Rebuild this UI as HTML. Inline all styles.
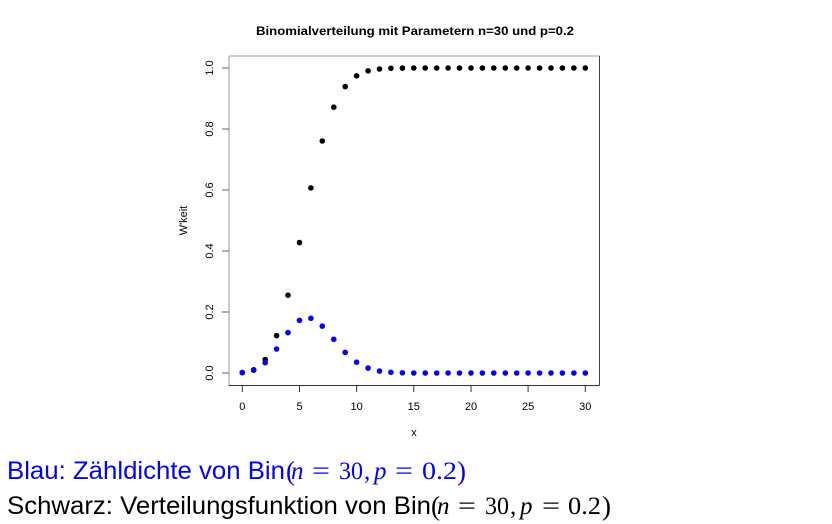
<!DOCTYPE html>
<html>
<head>
<meta charset="utf-8">
<style>
html,body{margin:0;padding:0;background:#fff;}
svg{display:block;}
</style>
</head>
<body>
<svg width="832" height="524" viewBox="0 0 832 524" xmlns="http://www.w3.org/2000/svg">
<rect x="0" y="0" width="832" height="524" fill="#fff"/>
<!-- title -->
<text x="256" y="35" font-family="Liberation Sans, Arial, sans-serif" font-weight="bold" font-size="11.5" textLength="318" lengthAdjust="spacingAndGlyphs" fill="#000">Binomialverteilung mit Parametern n=30 und p=0.2</text>

<!-- box -->
<line x1="229" y1="56" x2="229" y2="385.5" stroke="#bdbdbd" stroke-width="1.5"/>
<line x1="229" y1="56" x2="599.5" y2="56" stroke="#bdbdbd" stroke-width="1.5"/>
<line x1="599.5" y1="56" x2="599.5" y2="385.5" stroke="#444" stroke-width="1"/>
<line x1="228.5" y1="385.5" x2="599.5" y2="385.5" stroke="#333" stroke-width="1"/>

<!-- y ticks -->
<g stroke="#666" stroke-width="1">
<line x1="222" y1="373" x2="229" y2="373"/>
<line x1="222" y1="312" x2="229" y2="312"/>
<line x1="222" y1="251" x2="229" y2="251"/>
<line x1="222" y1="190" x2="229" y2="190"/>
<line x1="222" y1="129" x2="229" y2="129"/>
<line x1="222" y1="68" x2="229" y2="68"/>
</g>
<g font-family="Liberation Sans, Arial, sans-serif" font-size="11" fill="#000" text-anchor="middle">
<text transform="translate(213,373) rotate(-90)">0.0</text>
<text transform="translate(213,312) rotate(-90)">0.2</text>
<text transform="translate(213,251) rotate(-90)">0.4</text>
<text transform="translate(213,190) rotate(-90)">0.6</text>
<text transform="translate(213,129) rotate(-90)">0.8</text>
<text transform="translate(213,68) rotate(-90)">1.0</text>
<text transform="translate(187,220.5) rotate(-90)">W'keit</text>
</g>

<!-- x ticks -->
<g stroke="#333" stroke-width="1">
<line x1="242.3" y1="385" x2="242.3" y2="392"/>
<line x1="299.5" y1="385" x2="299.5" y2="392"/>
<line x1="356.6" y1="385" x2="356.6" y2="392"/>
<line x1="413.8" y1="385" x2="413.8" y2="392"/>
<line x1="471.0" y1="385" x2="471.0" y2="392"/>
<line x1="528.1" y1="385" x2="528.1" y2="392"/>
<line x1="585.3" y1="385" x2="585.3" y2="392"/>
</g>
<g font-family="Liberation Sans, Arial, sans-serif" font-size="11" fill="#000" text-anchor="middle">
<text x="242.3" y="410">0</text>
<text x="299.5" y="410">5</text>
<text x="356.6" y="410">10</text>
<text x="413.8" y="410">15</text>
<text x="471.0" y="410">20</text>
<text x="528.1" y="410">25</text>
<text x="585.3" y="410">30</text>
<text x="414" y="436">x</text>
</g>

<!-- CDF (black) -->
<g fill="#000">
<circle cx="242.3" cy="372.6" r="2.8"/>
<circle cx="253.7" cy="369.8" r="2.8"/>
<circle cx="265.2" cy="359.5" r="2.8"/>
<circle cx="276.6" cy="335.6" r="2.8"/>
<circle cx="288.0" cy="295.2" r="2.8"/>
<circle cx="299.5" cy="242.6" r="2.8"/>
<circle cx="310.9" cy="187.9" r="2.8"/>
<circle cx="322.3" cy="141.0" r="2.8"/>
<circle cx="333.8" cy="107.2" r="2.8"/>
<circle cx="345.2" cy="86.6" r="2.8"/>
<circle cx="356.6" cy="75.8" r="2.8"/>
<circle cx="368.1" cy="70.9" r="2.8"/>
<circle cx="379.5" cy="69.0" r="2.8"/>
<circle cx="390.9" cy="68.3" r="2.8"/>
<circle cx="402.4" cy="68.1" r="2.8"/>
<circle cx="413.8" cy="68" r="2.8"/>
<circle cx="425.2" cy="68" r="2.8"/>
<circle cx="436.7" cy="68" r="2.8"/>
<circle cx="448.1" cy="68" r="2.8"/>
<circle cx="459.5" cy="68" r="2.8"/>
<circle cx="471.0" cy="68" r="2.8"/>
<circle cx="482.4" cy="68" r="2.8"/>
<circle cx="493.8" cy="68" r="2.8"/>
<circle cx="505.3" cy="68" r="2.8"/>
<circle cx="516.7" cy="68" r="2.8"/>
<circle cx="528.1" cy="68" r="2.8"/>
<circle cx="539.6" cy="68" r="2.8"/>
<circle cx="551.0" cy="68" r="2.8"/>
<circle cx="562.4" cy="68" r="2.8"/>
<circle cx="573.9" cy="68" r="2.8"/>
<circle cx="585.3" cy="68" r="2.8"/>
</g>

<!-- PMF (blue) -->
<g fill="#0000ff">
<circle cx="242.3" cy="372.6" r="2.8"/>
<circle cx="253.7" cy="370.2" r="2.8"/>
<circle cx="265.2" cy="362.7" r="2.8"/>
<circle cx="276.6" cy="349.0" r="2.8"/>
<circle cx="288.0" cy="332.6" r="2.8"/>
<circle cx="299.5" cy="320.4" r="2.8"/>
<circle cx="310.9" cy="318.3" r="2.8"/>
<circle cx="322.3" cy="326.1" r="2.8"/>
<circle cx="333.8" cy="339.3" r="2.8"/>
<circle cx="345.2" cy="352.4" r="2.8"/>
<circle cx="356.6" cy="362.2" r="2.8"/>
<circle cx="368.1" cy="368.1" r="2.8"/>
<circle cx="379.5" cy="371.1" r="2.8"/>
<circle cx="390.9" cy="372.3" r="2.8"/>
<circle cx="402.4" cy="372.8" r="2.8"/>
<circle cx="413.8" cy="373" r="2.8"/>
<circle cx="425.2" cy="373" r="2.8"/>
<circle cx="436.7" cy="373" r="2.8"/>
<circle cx="448.1" cy="373" r="2.8"/>
<circle cx="459.5" cy="373" r="2.8"/>
<circle cx="471.0" cy="373" r="2.8"/>
<circle cx="482.4" cy="373" r="2.8"/>
<circle cx="493.8" cy="373" r="2.8"/>
<circle cx="505.3" cy="373" r="2.8"/>
<circle cx="516.7" cy="373" r="2.8"/>
<circle cx="528.1" cy="373" r="2.8"/>
<circle cx="539.6" cy="373" r="2.8"/>
<circle cx="551.0" cy="373" r="2.8"/>
<circle cx="562.4" cy="373" r="2.8"/>
<circle cx="573.9" cy="373" r="2.8"/>
<circle cx="585.3" cy="373" r="2.8"/>
</g>

<!-- bottom text line 1 -->
<g fill="#0000ff" font-size="25">
<text x="7" y="479" font-family="Liberation Sans, Arial, sans-serif" textLength="278" lengthAdjust="spacingAndGlyphs">Blau: Zähldichte von Bin</text>
<g font-family="Liberation Serif, Times New Roman, serif">
<text x="286" y="480" font-size="27">(</text>
<text x="291" y="479" font-style="italic">n</text>
<text x="312" y="479" textLength="18" lengthAdjust="spacingAndGlyphs">=</text>
<text x="339" y="479" textLength="24" lengthAdjust="spacingAndGlyphs">30</text>
<text x="364" y="479">,</text>
<text x="374" y="479" font-style="italic">p</text>
<text x="395" y="479" textLength="18" lengthAdjust="spacingAndGlyphs">=</text>
<text x="422" y="479" textLength="35" lengthAdjust="spacingAndGlyphs">0.2</text>
<text x="457" y="480" font-size="27">)</text>
</g>
</g>

<!-- bottom text line 2 -->
<g fill="#000" font-size="25">
<text x="7" y="514" font-family="Liberation Sans, Arial, sans-serif" textLength="424" lengthAdjust="spacingAndGlyphs">Schwarz: Verteilungsfunktion von Bin</text>
<g font-family="Liberation Serif, Times New Roman, serif">
<text x="431" y="515" font-size="27">(</text>
<text x="437" y="514" font-style="italic">n</text>
<text x="458" y="514" textLength="18" lengthAdjust="spacingAndGlyphs">=</text>
<text x="485" y="514" textLength="24" lengthAdjust="spacingAndGlyphs">30</text>
<text x="510" y="514">,</text>
<text x="520" y="514" font-style="italic">p</text>
<text x="542" y="514" textLength="18" lengthAdjust="spacingAndGlyphs">=</text>
<text x="568" y="514" textLength="33" lengthAdjust="spacingAndGlyphs">0.2</text>
<text x="602" y="515" font-size="27">)</text>
</g>
</g>
</svg>
</body>
</html>
